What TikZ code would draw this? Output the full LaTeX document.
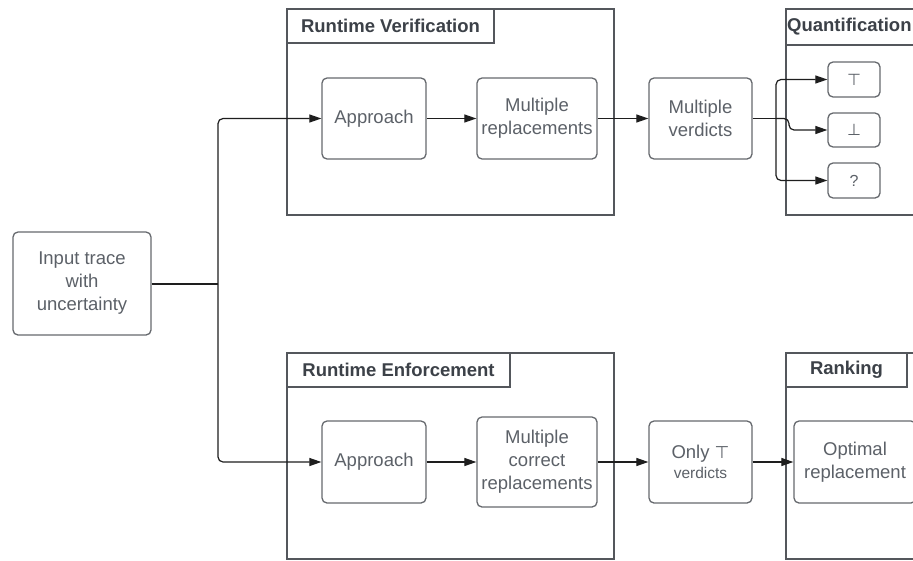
\documentclass[tikz,border=0pt]{standalone}
\usepackage{fontspec}
\setmainfont{Liberation Sans}
\newfontfamily\symfont{DejaVu Sans}
\usetikzlibrary{arrows.meta}
\definecolor{framecol}{HTML}{54575C}
\definecolor{boxcol}{HTML}{66696E}
\definecolor{textcol}{HTML}{5C6168}
\definecolor{titlecol}{HTML}{3C4148}
\definecolor{arrowcol}{HTML}{1E1E1E}
\begin{document}
\begin{tikzpicture}[x=1pt,y=-1pt,
  box/.style={draw=boxcol, line width=1.3pt, rounded corners=5pt, align=center,
    text=textcol, font=\fontsize{18.5}{23}\selectfont, inner sep=0pt},
  frame/.style={draw=framecol, line width=1.8pt},
  titletext/.style={text=titlecol, font=\bfseries\fontsize{18.5}{22}\selectfont, inner sep=0pt},
  flow/.style={draw=arrowcol, line width=1.2pt, -{Triangle[length=12pt,width=8pt]}},
  link/.style={draw=arrowcol, line width=1.2pt, rounded corners=5pt},
  verdict/.style={box, minimum width=52pt, minimum height=35pt, font=\symfont\fontsize{16}{18}\selectfont}]

\clip (0,0) rectangle (913,560);
\fill[white] (0,0) rectangle (913,560);

% containers with their title tabs
\draw[frame] (287,9) rectangle (614,215);
\draw[frame] (287,9) rectangle (494,43);
\draw[frame] (786,9) rectangle (930,215);
\draw[frame] (786,9) rectangle (930,45);
\draw[frame] (287,353) rectangle (614,559);
\draw[frame] (287,353) rectangle (510,387);
\draw[frame] (786,353) rectangle (930,559);
\draw[frame] (786,353) rectangle (907,387);

\node[titletext] (rvtitle) at (390.5,26) {Runtime Verification};
\node[titletext, anchor=west] (qtitle) at (787,27) {Quantification};
\node[titletext] (retitle) at (398.5,370) {Runtime Enforcement};
\node[titletext] (rktitle) at (846.5,370) {Ranking};

% process boxes
\node[box, minimum width=138pt, minimum height=103pt] (input) at (82,283.5) {Input trace\\with\\uncertainty};

\node[box, minimum width=104pt, minimum height=81pt] (appv) at (374,118.5) {Approach};
\node[box, minimum width=120pt, minimum height=81pt] (mrep) at (537,118.5) {Multiple\\replacements};
\node[box, minimum width=103pt, minimum height=81pt] (mver) at (700.5,118.5) {Multiple\\verdicts};

\node[verdict] (vtop) at (854,79.5) {⊤};
\node[verdict, minimum height=34pt] (vbot) at (854,130) {⊥};
\node[verdict, font=\fontsize{16}{18}\selectfont] (vunk) at (854,180.5) {?};

\node[box, minimum width=104pt, minimum height=82pt] (appe) at (374,462) {Approach};
\node[box, minimum width=120pt, minimum height=90pt] (mcrep) at (537,462) {Multiple\\correct\\replacements};
\node[box, minimum width=103pt, minimum height=82pt] (only) at (700.5,462)
  {Only {\symfont\fontsize{17}{18}\selectfont ⊤}\\[-3pt]{\fontsize{15.5}{18}\selectfont verdicts}};
\node[box, minimum width=122pt, minimum height=82pt] (optimal) at (855,462) {Optimal\\replacement};

% split points
\coordinate (infork) at (218,284);
\coordinate (vfork) at (776,118.5);

% connectors
\draw[link] (input.east |- infork) -- (infork);
\draw[flow, rounded corners=5pt] (infork) |- (appv.west);
\draw[flow, rounded corners=5pt] (infork) |- (appe.west);
\draw[flow] (appv) -- (mrep);
\draw[flow] (mrep) -- (mver);
\draw[link] (mver.east) -- (vfork);
\draw[flow, rounded corners=5pt] (vfork) |- (vtop.west);
\draw[flow, rounded corners=5pt] (vfork) -- (789,118.5) |- (vbot.west);
\draw[flow, rounded corners=5pt] (vfork) |- (vunk.west);
\draw[flow] (appe) -- (mcrep);
\draw[flow] (mcrep) -- (only);
\draw[flow] (only) -- (optimal);
\end{tikzpicture}
\end{document}
